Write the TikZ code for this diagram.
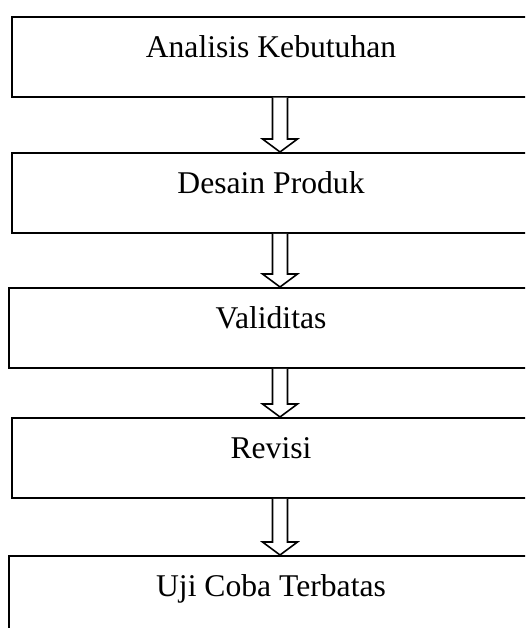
\documentclass[tikz,border=0pt]{standalone}
\usepackage{fontspec}
\setmainfont{Liberation Serif}
\usepackage{tikz}
\usetikzlibrary{calc}

\tikzset{
    stagebox/.style={shape=rectangle,draw=black,line width=1pt,anchor=north,inner sep=0pt,
        minimum width=10.36cm,text height=0.82cm,text depth=0.78cm,
        font=\fontsize{18}{20}\selectfont},
    hollow/.style={draw=black,line width=0.9pt,fill=white}
}
% hollow block arrow from bottom of #1 to top of #2
\newcommand{\blockarrow}[2]{%
    \draw[hollow] ($(#1.south)+(0.03,0)$) -- ($(#2.north)+(0.03,0.26)$)
        -- ($(#2.north)+(-0.17,0.26)$) -- ($(#2.north)+(0.18,0)$)
        -- ($(#2.north)+(0.53,0.26)$) -- ($(#2.north)+(0.33,0.26)$)
        -- ($(#1.south)+(0.33,0)$);}

\begin{document}
\begin{tikzpicture}
        \useasboundingbox (0,0) rectangle (10.5,12.56);
        \clip (0,0) rectangle (10.5,12.56);
        \node[stagebox] (A) at (5.42,12.24) {Analisis Kebutuhan};
        \node[stagebox] (D) at (5.42,9.52) {Desain Produk};
        \node[stagebox,minimum width=10.48cm] (V) at (5.42,6.82) {Validitas};
        \node[stagebox] (R) at (5.42,4.22) {Revisi};
        \node[stagebox,minimum width=10.48cm] (U) at (5.42,1.46) {Uji Coba Terbatas};
    
        \blockarrow{A}{D}
        \blockarrow{D}{V}
        \blockarrow{V}{R}
        \blockarrow{R}{U}
    \end{tikzpicture}
\end{document}
